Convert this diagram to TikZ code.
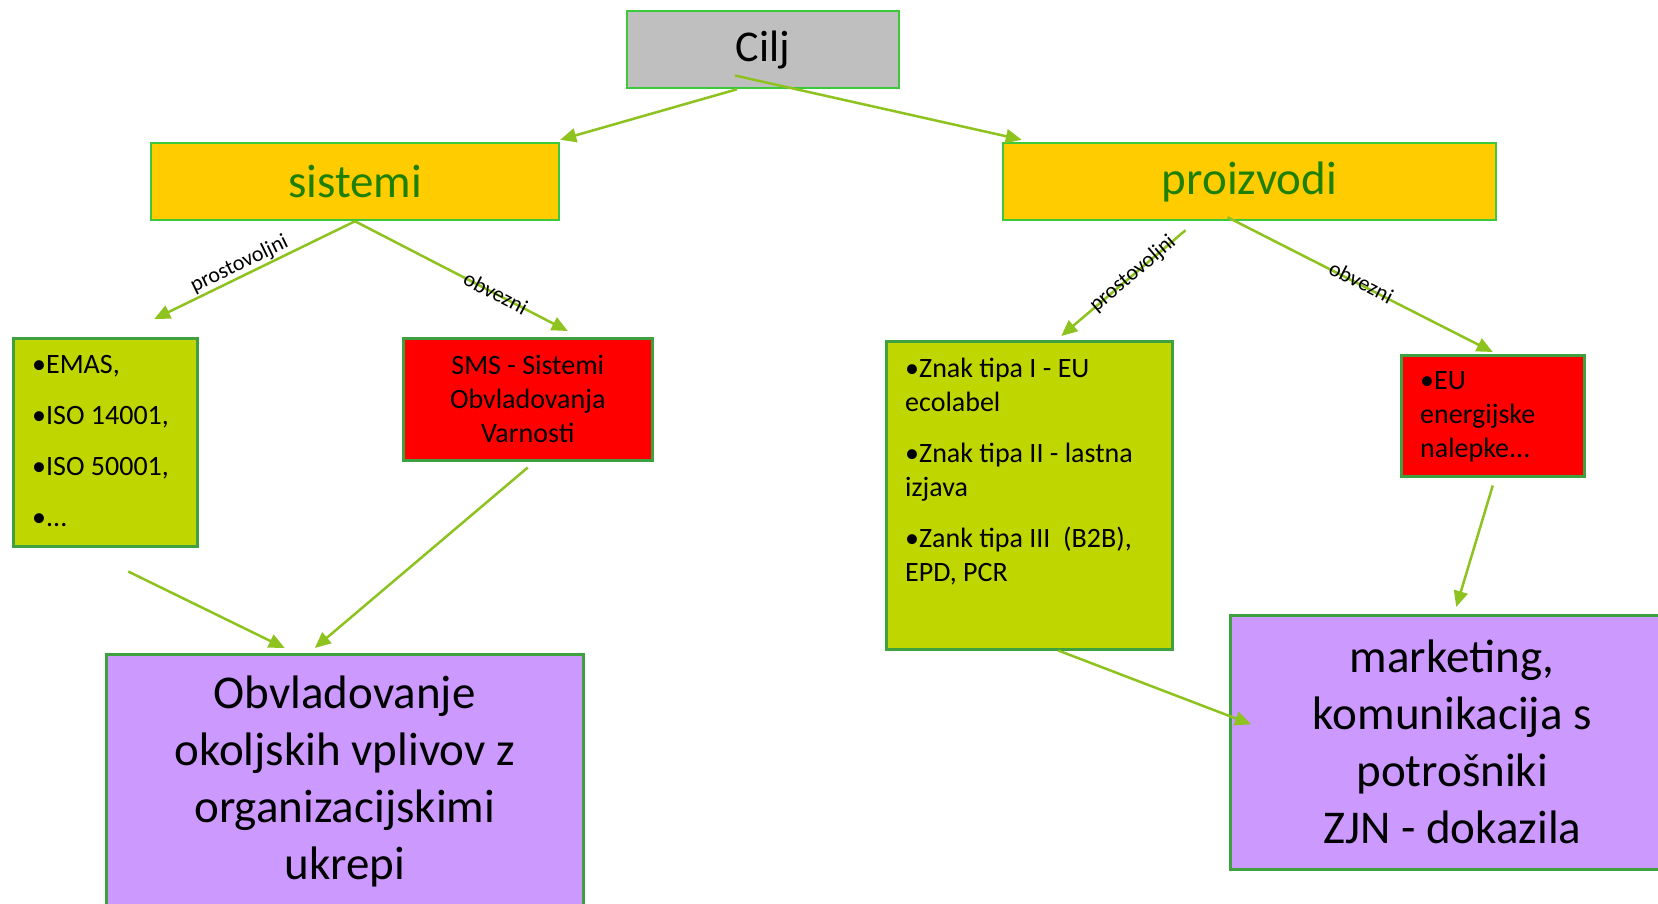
\documentclass[tikz,border=0pt]{standalone}
\usepackage{fontspec}
\setmainfont{Carlito}
\usetikzlibrary{arrows.meta, positioning}

\definecolor{ciljgray}{RGB}{191,191,191}
\definecolor{ciljline}{RGB}{60,200,60}
\definecolor{boxline}{RGB}{63,160,63}
\definecolor{grpyellow}{RGB}{255,204,0}
\definecolor{grptext}{RGB}{30,128,0}
\definecolor{limefill}{RGB}{191,214,0}
\definecolor{purplefill}{RGB}{204,153,255}
\definecolor{arrowgreen}{RGB}{141,194,31}

\begin{document}
\begin{tikzpicture}[
    x=1pt, y=-1pt,
    goalbox/.style={rectangle, draw=ciljline, line width=2.5pt, fill=ciljgray, minimum width=272pt, minimum height=77pt, font=\fontsize{44}{50}\selectfont},
    groupbox/.style={rectangle, draw=ciljline, line width=2.5pt, fill=grpyellow, minimum height=77pt, text=grptext, font=\fontsize{47}{54}\selectfont},
    listbox/.style={rectangle, draw=boxline, line width=2.5pt, fill=limefill, anchor=north west},
    redbox/.style={rectangle, draw=boxline, line width=2.5pt, fill=red, anchor=north west},
    listtext/.style={anchor=north west, inner sep=0pt, align=left, font=\fontsize{28}{34}\selectfont},
    resultbox/.style={rectangle, draw=boxline, line width=2.5pt, fill=purplefill, anchor=north west, align=center, font=\fontsize{47}{57}\selectfont},
    lbl/.style={sloped, inner sep=1pt, font=\fontsize{22}{26}\selectfont},
    arrow/.style={-{Triangle[length=16pt, width=14pt]}, line width=2.5pt, draw=arrowgreen}
]
\useasboundingbox (0,0) rectangle (1658,903);

% Goal and the two groups
\node[goalbox] (cilj) at (763,49.5) {Cilj};
\node[groupbox, minimum width=408pt] (sistemi) at (355,181.5) {sistemi};
\node[groupbox, minimum width=493pt] (proizvodi) at (1249.5,181.5) {proizvodi};

% Systems
\node[listbox, minimum width=184pt, minimum height=208pt] (sysvoluntary) at (12,337) {};
\node[listtext, font=\fontsize{28}{51}\selectfont] (sysvoluntarytext) at ([xshift=20pt,yshift=-18pt]sysvoluntary.north west) {•EMAS,\\•ISO 14001,\\•ISO 50001,\\•...};
\node[redbox, minimum width=249pt, minimum height=122pt, align=center, font=\fontsize{28}{34}\selectfont] (sysmandatory) at (402,337) {SMS - Sistemi\\Obvladovanja\\Varnosti};

% Products
\node[listbox, minimum width=286pt, minimum height=308pt] (prodvoluntary) at (885,340) {};
\node[listtext] (prodvoluntarytext) at ([xshift=20pt,yshift=-18pt]prodvoluntary.north west) {•Znak tipa I - EU\\ecolabel\\[17pt]•Znak tipa II - lastna\\izjava\\[17pt]•Zank tipa III\ \ (B2B),\\EPD, PCR};
\node[redbox, minimum width=183pt, minimum height=121pt] (prodmandatory) at (1400,354) {};
\node[listtext] (prodmandatorytext) at ([xshift=20pt,yshift=-17pt]prodmandatory.north west) {•EU\\energijske\\nalepke...};

% Results
\node[resultbox, minimum width=477pt, minimum height=254pt] (sysresult) at (105,653) {Obvladovanje\\okoljskih vplivov z\\organizacijskimi\\ukrepi};
\node[resultbox, minimum width=444pt, minimum height=254pt] (prodresult) at (1229,614) {marketing,\\komunikacija s\\potrošniki\\ZJN - dokazila};

% Arrows
\draw[arrow] ([xshift=-26pt]cilj.south) -- ([yshift=2pt]sistemi.north east);
\draw[arrow] ([xshift=-28pt,yshift=-26pt]cilj.center) -- ([xshift=20pt,yshift=2pt]proizvodi.north west);

\draw[arrow] (sistemi.south) -- node[lbl, above, pos=0.55] (sysvollbl) {prostovoljni} ([xshift=49pt,yshift=18pt]sysvoluntary.north);
\draw[arrow] (sistemi.south) -- node[lbl, above=-9pt, pos=0.66] (sysmandlbl) {obvezni} ([xshift=40pt,yshift=6pt]sysmandatory.north);
\draw[arrow] ([xshift=-64pt,yshift=-9pt]proizvodi.south) -- node[lbl, above=-11pt, pos=0.42] (prodvollbl) {prostovoljni} ([xshift=32pt,yshift=4pt]prodvoluntary.north);
\draw[arrow] ([xshift=-22pt,yshift=4pt]proizvodi.south) -- node[lbl, above=-7pt, pos=0.5] (prodmandlbl) {obvezni} ([yshift=2pt]prodmandatory.north);

\draw[arrow] ([xshift=23pt,yshift=-24pt]sysvoluntary.south) -- ([xshift=-60pt,yshift=5pt]sysresult.north);
\draw[arrow] ([yshift=-6pt]sysmandatory.south) -- ([xshift=-30pt,yshift=5pt]sysresult.north);
\draw[arrow] ([xshift=29pt]prodvoluntary.south) -- ([xshift=22pt,yshift=18pt]prodresult.west);
\draw[arrow] ([yshift=-8pt]prodmandatory.south) -- ([xshift=4pt,yshift=7pt]prodresult.north);

\end{tikzpicture}
\end{document}
